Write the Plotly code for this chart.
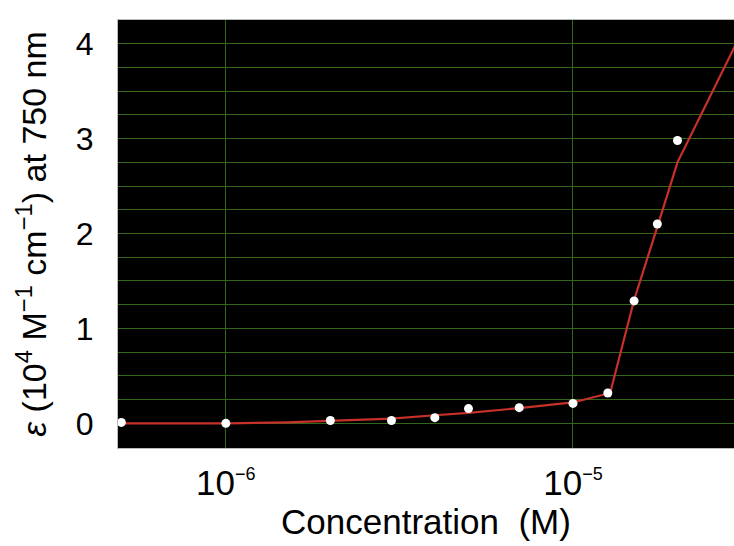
import plotly.graph_objects as go
import math

# measured data points (white markers)
conc_pts = [5e-7, 1e-6, 2e-6, 3e-6, 4e-6, 5e-6, 7e-6, 1e-5, 1.26e-5, 1.5e-5, 1.75e-5, 2e-5]
eps_pts = [0.01, 0.0, 0.03, 0.03, 0.06, 0.155, 0.165, 0.21, 0.32, 1.29, 2.10, 2.98]

# fitted curve (red line)
conc_fit = [4.8e-7, 1e-6, 1.5e-6, 2e-6, 3e-6, 4e-6, 5e-6, 7e-6, 1e-5, 1.28e-5, 1.5e-5, 1.75e-5, 2e-5, 2.95e-5]
eps_fit = [0.0, 0.0, 0.01, 0.025, 0.05, 0.085, 0.11, 0.16, 0.22, 0.32, 1.30, 2.07, 2.75, 4.0]

xticks = [1e-6, 1e-5]
xticktext = ["10<sup><span style='font-size:18px'>\u22126</span></sup>",
             "10<sup><span style='font-size:18px'>\u22125</span></sup>"]
yticks = [0, 1, 2, 3, 4]

FONT = "Liberation Sans, Arial, sans-serif"
GRID = "#33661a"

fig = go.Figure()
fig.add_trace(go.Scatter(x=conc_fit, y=eps_fit, mode="lines",
                         line=dict(color="#c8302a", width=2.2), showlegend=False))
fig.add_trace(go.Scatter(x=conc_pts, y=eps_pts, mode="markers",
                         marker=dict(color="white", size=9, line=dict(width=0)),
                         showlegend=False, cliponaxis=False))

fig.update_layout(
    width=734, height=546,
    margin=dict(l=118, r=0, t=20, b=98),
    paper_bgcolor="white", plot_bgcolor="black",
    font=dict(family=FONT, color="black"),
    xaxis=dict(type="log", range=[math.log10(4.89e-7), math.log10(2.91e-5)],
               tickvals=xticks, ticktext=xticktext,
               tickfont=dict(size=35, family=FONT),
               showgrid=True, gridcolor=GRID, gridwidth=1,
               zeroline=False, ticks="", ticklabelstandoff=4,
               showline=True, linecolor="#bbbbbb", linewidth=1, mirror=True,
               title=dict(text="Concentration  (M)", font=dict(size=35, family=FONT), standoff=8)),
    yaxis=dict(range=[-0.26, 4.25], tickvals=yticks,
               tickfont=dict(size=32, family=FONT),
               showgrid=True, gridcolor=GRID, gridwidth=1,
               minor=dict(dtick=0.25, tick0=0, showgrid=True, gridcolor=GRID, gridwidth=1),
               zeroline=False, ticks="", ticklabelstandoff=17,
               showline=True, linecolor="#bbbbbb", linewidth=1, mirror=True,
               title=dict(text="<i>\u03b5</i> (10<sup>4</sup> M<sup>\u22121</sup> cm<sup>\u22121</sup>) at 750 nm",
                          font=dict(size=34, family=FONT), standoff=18)),
)

fig.write_html("out.html")
